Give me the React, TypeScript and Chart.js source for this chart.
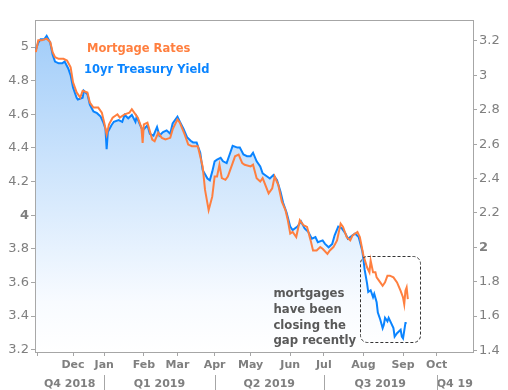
import React, { useEffect, useRef } from 'react';
import { Chart, registerables } from 'chart.js';

Chart.register(...registerables);

// ---- data (x = days since 1 Nov 2018) ----
const monthDays = [0, 30, 56, 89, 117, 148, 178, 211, 239, 272, 305, 333];
const monthLabels = ['', 'Dec', 'Jan', 'Feb', 'Mar', 'Apr', 'May', 'Jun', 'Jul', 'Aug', 'Sep', 'Oct'];
const quarterLabels = ['Q4 2018', 'Q1 2019', 'Q2 2019', 'Q3 2019', 'Q4 19'];
const quarterStartDays = [-31, 56, 148, 239, 333];

const leftTicks = [3.2, 3.4, 3.6, 3.8, 4, 4.2, 4.4, 4.6, 4.8, 5];
const rightTicks = [1.4, 1.6, 1.8, 2, 2.2, 2.4, 2.6, 2.8, 3, 3.2];

const treasuryDays = [
  -1, 1, 3, 6, 8, 11, 13, 15, 18, 21,
  23, 26, 28, 30, 33, 34, 38, 39, 42, 44,
  47, 50, 53, 55, 57, 58, 59, 62, 64, 68,
  71, 73, 76, 79, 82, 83, 86, 88, 92, 94,
  97, 100, 102, 105, 108, 111, 113, 117, 119, 122,
  125, 128, 130, 133, 136, 138, 142, 144, 146, 148,
  150, 153, 155, 158, 161, 163, 167, 169, 172, 175,
  178, 180, 183, 186, 188, 192, 194, 197, 200, 203,
  205, 208, 211, 213, 217, 220, 223, 226, 229, 232,
  234, 238, 240, 243, 246, 248, 251, 254, 257, 259,
  263, 265, 268, 271, 272, 273, 275, 276, 278, 280,
  281, 283, 284, 286, 288, 289, 290, 292, 293, 295,
  297, 298, 300, 303, 304, 305, 307, 308,
];
const treasury = [
  3.15, 3.19, 3.21, 3.21, 3.23, 3.19, 3.12, 3.08, 3.07, 3.07,
  3.08, 3.04, 3.0, 2.93, 2.87, 2.86, 2.87, 2.91, 2.89, 2.83,
  2.79, 2.78, 2.76, 2.73, 2.69, 2.57, 2.67, 2.71, 2.73, 2.74,
  2.73, 2.77, 2.75, 2.77, 2.73, 2.76, 2.71, 2.68, 2.71, 2.66,
  2.65, 2.7, 2.65, 2.67, 2.68, 2.66, 2.72, 2.76, 2.73, 2.69,
  2.64, 2.62, 2.61, 2.61, 2.55, 2.45, 2.4, 2.39, 2.44, 2.5,
  2.51, 2.52, 2.5, 2.49, 2.55, 2.59, 2.58, 2.58, 2.54, 2.53,
  2.53, 2.55, 2.5, 2.47, 2.43, 2.41, 2.4, 2.42, 2.39, 2.32,
  2.26, 2.2, 2.12, 2.1, 2.12, 2.15, 2.11, 2.09, 2.05, 2.06,
  2.03, 2.04, 2.02, 2.0, 2.02, 2.07, 2.12, 2.11, 2.08, 2.05,
  2.07, 2.08, 2.06, 1.98, 1.93, 1.87, 1.79, 1.74, 1.75, 1.71,
  1.73, 1.68, 1.62, 1.58, 1.53, 1.55, 1.59, 1.57, 1.59, 1.56,
  1.53, 1.48, 1.5, 1.52, 1.48, 1.47, 1.56, 1.56,
];

const mortgageDays = [
  -1, 1, 4, 8, 11, 13, 15, 18, 22, 25,
  28, 30, 33, 36, 38, 42, 44, 47, 51, 54,
  56, 58, 60, 63, 67, 69, 73, 77, 79, 82,
  84, 87, 88, 89, 92, 96, 98, 101, 104, 107,
  111, 113, 117, 119, 123, 126, 129, 134, 138, 140,
  142, 143, 146, 148, 150, 152, 154, 157, 159, 163,
  165, 168, 171, 173, 178, 180, 183, 186, 188, 193,
  196, 198, 201, 204, 207, 209, 211, 213, 216, 219,
  222, 225, 228, 230, 233, 236, 238, 242, 244, 247,
  250, 253, 255, 258, 261, 263, 267, 269, 272, 275,
  277, 278, 280, 282, 283, 286, 288, 290, 292, 294,
  297, 300, 303, 305, 306, 307, 308, 309,
];
const mortgage = [
  4.97, 5.04, 5.04, 5.05, 5.03, 4.97, 4.94, 4.93, 4.93, 4.92,
  4.88, 4.79, 4.73, 4.7, 4.74, 4.73, 4.67, 4.64, 4.64, 4.61,
  4.55, 4.48, 4.54, 4.58, 4.6, 4.58, 4.6, 4.61, 4.63, 4.6,
  4.58, 4.52, 4.43, 4.54, 4.55, 4.45, 4.44, 4.49, 4.46, 4.45,
  4.46, 4.51, 4.57, 4.55, 4.48, 4.42, 4.41, 4.41, 4.29, 4.15,
  4.07, 4.03, 4.11, 4.23, 4.23, 4.3, 4.22, 4.21, 4.23, 4.31,
  4.35, 4.36, 4.31, 4.3, 4.29, 4.3, 4.22, 4.2, 4.22, 4.13,
  4.16, 4.23, 4.18, 4.08, 4.03, 3.97, 3.89, 3.9, 3.87, 3.97,
  3.94, 3.93, 3.85, 3.79, 3.79, 3.81, 3.8, 3.77, 3.79, 3.81,
  3.85, 3.95, 3.93, 3.87, 3.85, 3.88, 3.9, 3.87, 3.76, 3.69,
  3.66, 3.73, 3.66, 3.66, 3.63, 3.6, 3.58, 3.6, 3.64, 3.64,
  3.63, 3.6, 3.55, 3.51, 3.47, 3.55, 3.57, 3.5,
];

const annotationLines = ['mortgages', 'have been', 'closing the', 'gap recently'];

// ---- layout / style ----
const X_MIN = -1.7;
const X_MAX = 363.3;
const L_MIN = 3.186;
const L_MAX = 5.161;
const R_MIN = 1.391;
const R_MAX = 3.322;

const FAMILY = '"DejaVu Sans", Verdana, sans-serif';
const GREY = '#a6a6a6';
const LABEL = '#7f7f7f';
const ORANGE = '#ff7f3f';
const BLUE = '#0a84ff';

const fmt = (v: number) => String(Number(v.toFixed(1)));

const overlay = {
  id: 'overlay',
  afterDraw(chart: any) {
    const { ctx, chartArea: a, scales } = chart;
    const xs = scales.x;
    const yr = scales.yR;
    ctx.save();
    // top frame line
    ctx.strokeStyle = GREY;
    ctx.lineWidth = 1;
    ctx.beginPath();
    ctx.moveTo(a.left, Math.floor(a.top) + 0.5);
    ctx.lineTo(a.right, Math.floor(a.top) + 0.5);
    ctx.stroke();

    // legend
    ctx.font = `bold 11.5px ${FAMILY}`;
    ctx.textBaseline = 'alphabetic';
    ctx.textAlign = 'left';
    ctx.fillStyle = ORANGE;
    ctx.fillText('Mortgage Rates', a.left + 52, a.top + 32);
    ctx.fillStyle = BLUE;
    ctx.fillText('10yr Treasury Yield', a.left + 49, a.top + 53);

    // annotation text
    ctx.font = `bold 11.7px ${FAMILY}`;
    ctx.fillStyle = '#595959';
    const tx = xs.getPixelForValue(197);
    const ty = yr.getPixelForValue(1.71);
    annotationLines.forEach((s, i) => ctx.fillText(s, tx, ty + i * 15.7));

    // dashed box
    const bx1 = xs.getPixelForValue(269);
    const bx2 = xs.getPixelForValue(319);
    const by1 = yr.getPixelForValue(1.95);
    const by2 = yr.getPixelForValue(1.45);
    ctx.setLineDash([3, 2]);
    ctx.strokeStyle = '#333';
    ctx.beginPath();
    ctx.roundRect(Math.round(bx1) + 0.5, Math.round(by1) + 0.5, Math.round(bx2 - bx1), Math.round(by2 - by1), 7);
    ctx.stroke();
    ctx.setLineDash([]);

    // quarter labels + separators
    ctx.font = `bold 11px ${FAMILY}`;
    ctx.fillStyle = LABEL;
    ctx.textAlign = 'center';
    ctx.strokeStyle = GREY;
    quarterLabels.forEach((q, i) => {
      const s = Math.max(X_MIN, quarterStartDays[i]);
      const e = i + 1 < quarterStartDays.length ? quarterStartDays[i + 1] : X_MAX;
      const ps = xs.getPixelForValue(s);
      const pe = xs.getPixelForValue(Math.min(X_MAX, e));
      ctx.fillText(q, (ps + pe) / 2, a.bottom + 35);
      if (quarterStartDays[i] > X_MIN) {
        const px = Math.round(ps) + 0.5;
        ctx.beginPath();
        ctx.moveTo(px, a.bottom + 23);
        ctx.lineTo(px, chart.height);
        ctx.stroke();
      }
    });
    ctx.restore();
  },
};

export default function App() {
  const ref = useRef<HTMLCanvasElement>(null);
  useEffect(() => {
    const yAxis = (pos: 'left' | 'right', min: number, max: number, ticks: number[], boldVal: number) => ({
      type: 'linear' as const,
      position: pos,
      min,
      max,
      afterBuildTicks: (s: any) => {
        s.ticks = ticks.map((v) => ({ value: v }));
      },
      afterFit: (s: any) => {
        s.width = 35;
      },
      ticks: {
        callback: (v: any) => fmt(Number(v)),
        color: LABEL,
        padding: 2,
        font: (c: any) => ({
          family: FAMILY,
          size: 13,
          weight: c.tick && c.tick.value === boldVal ? 'bold' : 'normal',
        }),
      },
      grid: { drawOnChartArea: false, tickLength: 4, color: GREY },
      border: { color: GREY },
    });

    const chart = new Chart(ref.current as HTMLCanvasElement, {
      type: 'line',
      data: {
        datasets: [
          {
            label: 'Mortgage Rates',
            data: mortgageDays.map((d, i) => ({ x: d, y: mortgage[i] })),
            yAxisID: 'yL',
            borderColor: ORANGE,
            borderWidth: 2,
            pointRadius: 0,
            fill: false,
          },
          {
            label: '10yr Treasury Yield',
            data: treasuryDays.map((d, i) => ({ x: d, y: treasury[i] })),
            yAxisID: 'yR',
            borderColor: BLUE,
            borderWidth: 2,
            pointRadius: 0,
            fill: 'start',
            backgroundColor: (c: any) => {
              const ch = c.chart;
              const a = ch.chartArea;
              if (!a) return 'rgba(0,0,0,0)';
              const g = ch.ctx.createLinearGradient(0, a.top, 0, a.bottom);
              g.addColorStop(0, 'rgb(158,203,249)');
              g.addColorStop(0.85, 'rgb(248,251,255)');
              g.addColorStop(1, 'rgb(255,255,255)');
              return g;
            },
          },
        ],
      },
      options: {
        responsive: false,
        animation: false,
        layout: { padding: { top: 20, left: 0, right: 0, bottom: 0 } },
        plugins: { legend: { display: false }, tooltip: { enabled: false } },
        scales: {
          x: {
            type: 'linear',
            min: X_MIN,
            max: X_MAX,
            afterBuildTicks: (s: any) => {
              s.ticks = monthDays.map((v) => ({ value: v }));
            },
            afterFit: (s: any) => {
              s.height = 38;
            },
            ticks: {
              autoSkip: false,
              maxRotation: 0,
              padding: 3,
              color: LABEL,
              font: { family: FAMILY, size: 11, weight: 'bold' },
              callback: (_v: any, i: number) => monthLabels[i],
            },
            grid: { drawOnChartArea: false, tickLength: 4, color: GREY },
            border: { color: GREY },
          },
          yL: yAxis('left', L_MIN, L_MAX, leftTicks, 4),
          yR: yAxis('right', R_MIN, R_MAX, rightTicks, 2),
        },
      } as any,
      plugins: [overlay],
    });
    return () => chart.destroy();
  }, []);

  return (
    <div style={{ position: 'fixed', left: 0, top: 0, width: 508, height: 390, background: '#fff' }}>
      <canvas ref={ref} width={508} height={390} style={{ width: 508, height: 390, display: 'block' }} />
    </div>
  );
}
